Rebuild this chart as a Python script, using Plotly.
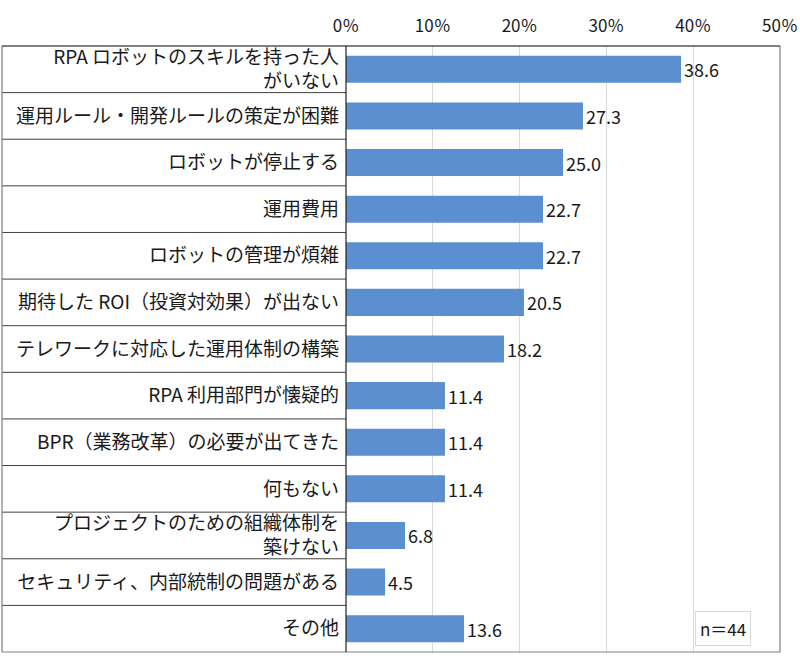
import plotly.graph_objects as go

# survey items (top to bottom) and share of respondents (%)
items = [
    "RPA ロボットのスキルを持った人<br>がいない",
    "運用ルール・開発ルールの策定が困難",
    "ロボットが停止する",
    "運用費用",
    "ロボットの管理が煩雑",
    "期待した ROI（投資対効果）が出ない",
    "テレワークに対応した運用体制の構築",
    "RPA 利用部門が懐疑的",
    "BPR（業務改革）の必要が出てきた",
    "何もない",
    "プロジェクトのための組織体制を<br>築けない",
    "セキュリティ、内部統制の問題がある",
    "その他",
]
shares = [38.6, 27.3, 25.0, 22.7, 22.7, 20.5, 18.2, 11.4, 11.4, 11.4, 6.8, 4.5, 13.6]
x_ticks = [0, 10, 20, 30, 40, 50]
n_label = "n＝44"

FONT = "Noto Sans CJK JP"
W, H = 800, 662
L, R, T, B = 346, 20, 46, 10
plot_w = W - L - R
left_edge = (2 - L) / plot_w  # paper x of the label table's left border

fig = go.Figure(go.Bar(
    x=shares,
    y=list(range(len(items))),
    orientation="h",
    marker=dict(color="#5B8FCF", line=dict(width=0)),
    text=[f"{v:.1f}" for v in shares],
    textposition="outside",
    textfont=dict(size=18, color="#1a1a1a", family=FONT),
    cliponaxis=False,
))

# table lines behind the category labels
shapes = []
for k in range(1, len(items)):
    shapes.append(dict(type="line", xref="paper", yref="y",
                       x0=left_edge, x1=0, y0=k - 0.5, y1=k - 0.5,
                       line=dict(color="#404040", width=1)))
# outer frame
shapes.append(dict(type="rect", xref="paper", yref="paper",
                   x0=left_edge, x1=1, y0=0, y1=1,
                   line=dict(color="#808080", width=1.2)))
# top edge of the table and value axis
shapes.append(dict(type="line", xref="paper", yref="paper",
                   x0=left_edge, x1=1, y0=1, y1=1,
                   line=dict(color="#404040", width=1)))
shapes.append(dict(type="line", xref="paper", yref="paper",
                   x0=0, x1=0, y0=0, y1=1,
                   line=dict(color="#202020", width=1.2)))

fig.update_layout(
    width=W, height=H,
    margin=dict(l=L, r=R, t=T, b=B, autoexpand=False),
    paper_bgcolor="white",
    plot_bgcolor="white",
    showlegend=False,
    bargap=0.42,
    font=dict(family=FONT, size=19, color="#1a1a1a"),
    shapes=shapes,
    annotations=[dict(
        text=n_label, xref="paper", yref="y",
        x=0.868, y=len(items) - 1, xanchor="center", yanchor="middle",
        showarrow=False, font=dict(size=17, family=FONT, color="#1a1a1a"),
        bordercolor="#d9d9d9", borderwidth=1, borderpad=4, bgcolor="white",
    )],
)

fig.update_xaxes(
    side="top", range=[0, 50], tickvals=x_ticks,
    ticktext=[f"{v}％" for v in x_ticks],
    showgrid=True, gridcolor="#d9d9d9", gridwidth=1,
    zeroline=False, showline=False, ticks="",
    ticklabelstandoff=10, ticklabeloverflow="allow",
    tickfont=dict(size=17, family=FONT),
)
fig.update_yaxes(
    tickvals=list(range(len(items))), ticktext=items,
    autorange=False, range=[len(items) - 0.5, -0.5],
    showgrid=False, zeroline=False, showline=False, ticks="",
    ticklabelstandoff=6,
    tickfont=dict(size=19, family=FONT),
)

# the page body has a default 8px margin; drop it so the chart sits at 0,0
fig.write_html("out.html", config={"displayModeBar": False},
               post_script="document.body.style.margin='0px';")
